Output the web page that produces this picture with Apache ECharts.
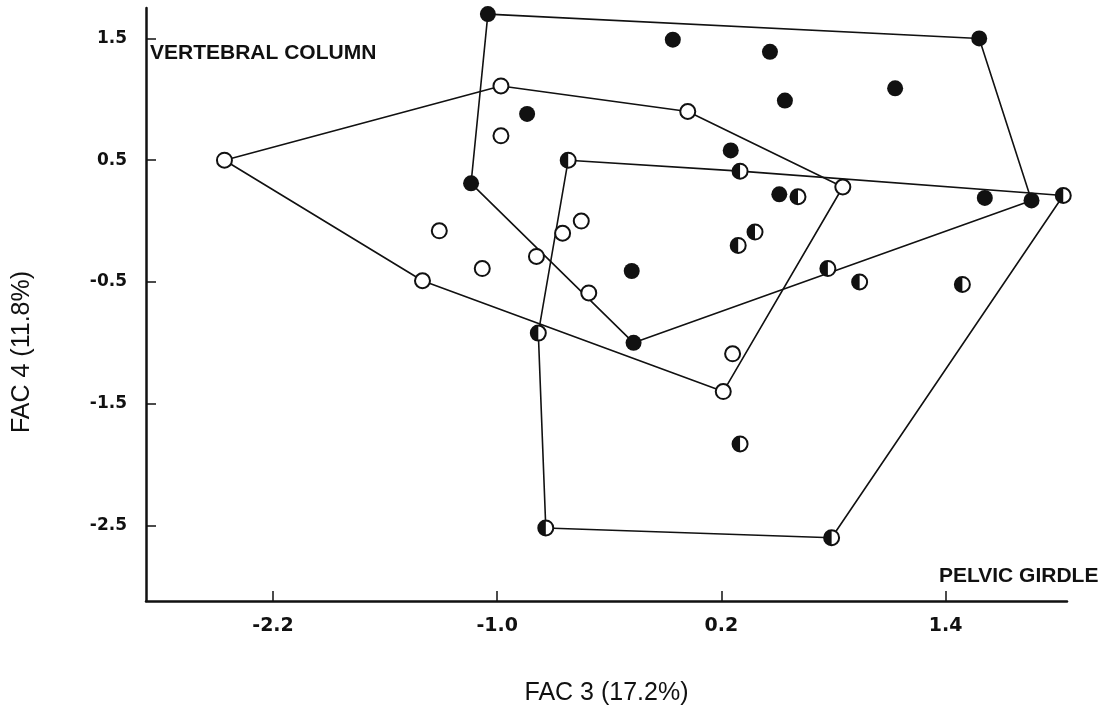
<!DOCTYPE html>
<html>
<head>
<meta charset="utf-8">
<title>FAC 3 vs FAC 4</title>
<script src="https://cdn.jsdelivr.net/npm/echarts@6/dist/echarts.min.js"></script>
<style>
  html, body { margin: 0; padding: 0; background: #fff; }
  #chart { width: 1107px; height: 714px; }
</style>
</head>
<body>
<div id="chart"></div>
<script>
// Factor scores: FAC 3 (x) and FAC 4 (y)
const filledPts = [
  [-1.05, 1.70], [-0.06, 1.49], [0.46, 1.39], [1.58, 1.50],
  [-0.84, 0.88], [0.54, 0.99], [1.13, 1.09], [0.25, 0.58],
  [-1.14, 0.31], [0.51, 0.22], [1.61, 0.19], [1.86, 0.17],
  [-0.28, -0.41], [-0.27, -1.00]
];
const openPts = [
  [-2.46, 0.50], [-0.98, 1.11], [0.02, 0.90], [0.85, 0.28],
  [0.21, -1.40], [-1.40, -0.49], [-0.98, 0.70], [-1.31, -0.08],
  [-1.08, -0.39], [-0.65, -0.10], [-0.55, 0.00], [-0.79, -0.29],
  [-0.51, -0.59], [0.26, -1.09]
];
const halfPts = [
  [-0.62, 0.50], [0.30, 0.41], [2.03, 0.21], [0.79, -2.60],
  [-0.74, -2.52], [-0.78, -0.92], [0.61, 0.20], [0.38, -0.09],
  [0.29, -0.20], [0.77, -0.39], [0.94, -0.50], [1.49, -0.52],
  [0.30, -1.83]
];

// Outline polygons, as indices into the point lists above
const filledHull = [0, 3, 11, 13, 8];
const openHull = [0, 1, 2, 3, 4, 5];
const halfHull = [0, 1, 2, 3, 4, 5];

const xTicks = [-2.2, -1.0, 0.2, 1.4];
const yTicks = [-2.5, -1.5, -0.5, 0.5, 1.5];

const xTitle = 'FAC 3 (17.2%)';
const yTitle = 'FAC 4 (11.8%)';
const noteTop = 'VERTEBRAL COLUMN';
const noteBottom = 'PELVIC GIRDLE';

const INK = '#111';

function ring(points, idx) {
  const out = idx.map(i => points[i]);
  out.push(points[idx[0]]);
  return out;
}

function hullSeries(points, idx) {
  return {
    type: 'line',
    data: ring(points, idx),
    showSymbol: false,
    symbol: 'none',
    lineStyle: { color: INK, width: 1.6 },
    z: 1,
    silent: true
  };
}

const chart = echarts.init(document.getElementById('chart'), null, { renderer: 'canvas' });

chart.setOption({
  animation: false,
  backgroundColor: '#fff',
  grid: { left: 146, right: 40, top: 8, bottom: 113 },
  xAxis: {
    type: 'value',
    min: -2.88,
    max: 2.05,
    name: xTitle,
    nameLocation: 'middle',
    nameGap: 80,
    nameTextStyle: { fontFamily: 'Liberation Sans', fontSize: 25, color: INK },
    splitLine: { show: false },
    axisLine: { show: true, onZero: false, lineStyle: { color: INK, width: 2.5 } },
    axisTick: { show: true, inside: true, length: 10, customValues: xTicks, lineStyle: { color: INK, width: 1.5 } },
    axisLabel: {
      customValues: xTicks,
      margin: 16,
      formatter: v => v.toFixed(1),
      fontFamily: 'DejaVu Sans',
      fontWeight: 'bold',
      fontSize: 19,
      color: INK
    }
  },
  yAxis: {
    type: 'value',
    min: -3.12,
    max: 1.75,
    splitLine: { show: false },
    axisLine: { show: true, onZero: false, lineStyle: { color: INK, width: 2.5 } },
    axisTick: { show: true, inside: true, length: 10, customValues: yTicks, lineStyle: { color: INK, width: 1.5 } },
    axisLabel: {
      customValues: yTicks,
      margin: 19,
      formatter: v => v.toFixed(1),
      fontFamily: 'DejaVu Sans',
      fontWeight: 'bold',
      fontSize: 17,
      color: INK
    }
  },
  graphic: [
    {
      type: 'text', x: 22, y: 352, rotation: Math.PI / 2,
      style: { text: yTitle, font: '25px "Liberation Sans"', fill: INK, align: 'center', verticalAlign: 'middle' }
    },
    {
      type: 'text', x: 150, y: 53,
      style: { text: noteTop, font: 'bold 21px "Liberation Sans"', fill: INK, align: 'left', verticalAlign: 'middle' }
    },
    {
      type: 'text', x: 939, y: 576,
      style: { text: noteBottom, font: 'bold 21px "Liberation Sans"', fill: INK, align: 'left', verticalAlign: 'middle' }
    }
  ],
  series: [
    hullSeries(filledPts, filledHull),
    hullSeries(openPts, openHull),
    hullSeries(halfPts, halfHull),
    {
      type: 'scatter', data: openPts, symbol: 'circle', symbolSize: 15, z: 3,
      itemStyle: { color: '#fff', borderColor: INK, borderWidth: 2, opacity: 1 }
    },
    {
      type: 'scatter', data: halfPts, symbol: 'circle', symbolSize: 15, z: 3,
      itemStyle: { color: '#fff', borderColor: INK, borderWidth: 2, opacity: 1 }
    },
    {
      // left half of each half-filled marker
      type: 'scatter', data: halfPts,
      symbol: 'path://M10,0 A10,10 0 0 0 10,20 Z',
      symbolSize: [7.5, 15], symbolOffset: [-3.75, 0], z: 4,
      itemStyle: { color: INK, opacity: 1 }
    },
    {
      type: 'scatter', data: filledPts, symbol: 'circle', symbolSize: 16, z: 3,
      itemStyle: { color: INK, opacity: 1 }
    }
  ]
});
</script>
</body>
</html>
